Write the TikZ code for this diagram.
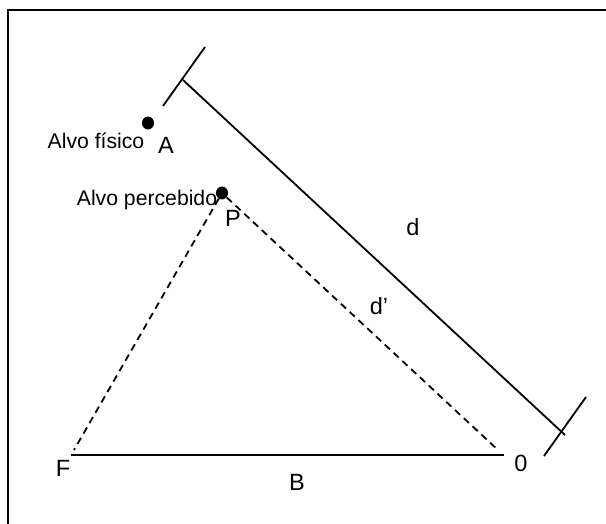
\documentclass[tikz,border=0pt]{standalone}
\usepackage{fontspec}
\setmainfont{Liberation Sans}
\usetikzlibrary{shapes.geometric}
\begin{document}
\begin{tikzpicture}[x=1pt,y=-1pt,
  line/.style={line width=1.8pt},
  dashline/.style={line width=1.8pt,dash pattern=on 7pt off 5pt},
  dot/.style={ellipse,fill=black,inner sep=0pt,minimum width=12pt,minimum height=13pt},
  lbl/.style={inner sep=0pt,font=\fontsize{23.5}{26}\selectfont},
  txt/.style={inner sep=0pt,font=\fontsize{21.2}{24}\selectfont}]
\useasboundingbox (0,0) rectangle (606,524);
% frame (only top and left edges visible)
\coordinate (fb) at (8,524);
\coordinate (fc) at (8,10);
\coordinate (fr) at (606,10);
\draw[line width=2pt] (fb) -- (fc) -- (fr);
% distance d with end ticks
\coordinate (d1) at (183,80);
\coordinate (d2) at (565,435);
\coordinate (t1a) at (163,106);
\coordinate (t1b) at (205,47);
\coordinate (t2a) at (544,456);
\coordinate (t2b) at (586,397);
\draw[line] (t1a) -- (t1b);
\draw[line] (t2a) -- (t2b);
\draw[line] (d1) -- (d2);
% targets
\node[dot] (A) at (148,123) {};
\node[dot] (P) at (222,193) {};
% base
\coordinate (F) at (71,455);
\coordinate (O) at (504,455);
\coordinate (Fd) at (74,450);
\coordinate (Od) at (498,450);
\draw[line] (F) -- (O);
\draw[dashline] (P) -- (Fd);
\draw[dashline] (P) -- (Od);
% labels
\node[txt] (tA) at (96,141) {Alvo físico};
\node[lbl] (lA) at (166,145) {A};
\node[txt] (tP) at (147,200) {Alvo percebido};
\node[lbl] (lP) at (233,218) {P};
\node[lbl] (ld) at (413,227) {d};
\node[lbl] (ldp) at (379,306) {d’};
\node[lbl] (lF) at (63,468) {F};
\node[lbl] (lB) at (297,482) {B};
\node[lbl] (lO) at (521,463) {0};
\end{tikzpicture}
\end{document}
